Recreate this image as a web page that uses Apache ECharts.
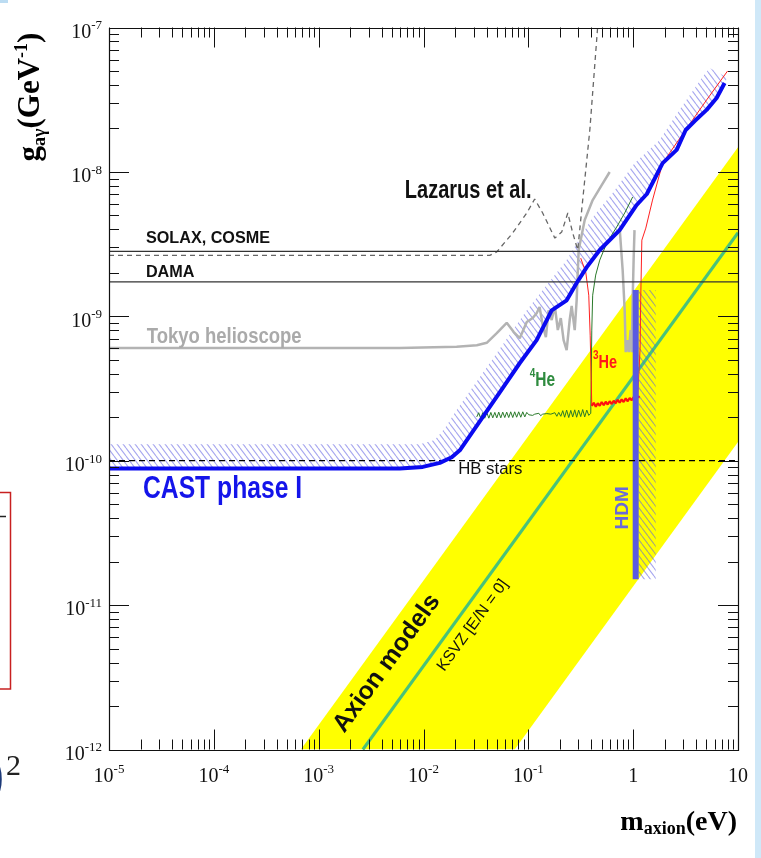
<!DOCTYPE html>
<html>
<head>
<meta charset="utf-8">
<script src="https://cdn.jsdelivr.net/npm/echarts@6/dist/echarts.min.js"></script>
<style>
  html, body { margin: 0; padding: 0; background: #ffffff; }
  #chart { width: 761px; height: 858px; }
</style>
</head>
<body>
<div id="chart"></div>
<script>
// Axion–photon coupling limits versus axion mass (eV, GeV^-1)

// CAST phase I exclusion line
const castMass  = [1e-5, 5.94e-3, 9.84e-3, 1.43e-2, 1.86e-2, 2.22e-2, 3.67e-2, 5.69e-2, 8.26e-2, 0.120, 0.167, 0.232, 0.289, 0.361, 0.480, 0.743, 1.08, 1.35, 1.91, 2.60, 3.17, 3.86, 5.02, 6.25, 7.45];
const castLimit = [8.83e-11, 8.83e-11, 9.06e-11, 9.66e-11, 1.057e-10, 1.18e-10, 2.00e-10, 3.18e-10, 4.73e-10, 6.84e-10, 1.10e-9, 1.29e-9, 1.70e-9, 2.19e-9, 2.88e-9, 3.95e-9, 5.90e-9, 7.03e-9, 1.15e-8, 1.42e-8, 1.95e-8, 2.25e-8, 2.69e-8, 3.25e-8, 4.13e-8];

// upper edge of the hatched band above the CAST line
const castBandMass  = [1e-5, 9.23e-3, 1.28e-2, 1.60e-2, 2.07e-2, 4.29e-2, 9.66e-2, 0.232, 0.411, 0.638, 1.03, 1.79, 2.77, 4.59, 5.36, 7.96];
const castBandUpper = [1.30e-10, 1.30e-10, 1.39e-10, 1.68e-10, 2.24e-10, 4.74e-10, 1.10e-9, 2.45e-9, 4.86e-9, 7.14e-9, 1.15e-8, 1.66e-8, 2.69e-8, 4.55e-8, 5.25e-8, 4.48e-8];

// Tokyo helioscope
const tokyoMass  = [1e-5, 5.94e-3, 2.07e-2, 3.22e-2, 4.01e-2, 5.00e-2, 6.22e-2, 7.26e-2, 8.28e-2, 9.66e-2, 0.110, 0.120, 0.128, 0.137, 0.147, 0.156, 0.167, 0.179, 0.191, 0.204, 0.217, 0.232, 0.248, 0.259, 0.277, 0.289, 0.302, 0.345, 0.411, 0.501, 0.597];
const tokyoLimit = [6.03e-10, 6.03e-10, 6.15e-10, 6.31e-10, 6.55e-10, 7.65e-10, 9.02e-10, 7.77e-10, 7.06e-10, 9.12e-10, 9.72e-10, 1.05e-9, 1.16e-9, 8.71e-10, 7.18e-10, 1.10e-9, 9.42e-10, 1.18e-9, 8.03e-10, 9.72e-10, 6.84e-10, 5.83e-10, 9.42e-10, 1.18e-9, 8.03e-10, 1.29e-9, 2.88e-9, 4.65e-9, 6.38e-9, 8.11e-9, 9.98e-9];
const tokyoDipMass  = [0.743, 0.794, 0.830, 0.849, 0.887, 0.906, 0.946, 0.968, 0.989, 1.01, 1.03];
const tokyoDipLimit = [4.08e-9, 2.09e-9, 1.10e-9, 5.65e-10, 6.84e-10, 5.65e-10, 8.03e-10, 5.65e-10, 1.29e-9, 2.45e-9, 3.95e-9];

// Lazarus et al.
const lazarusMass  = [1e-5, 4.29e-2, 5.00e-2, 7.10e-2, 9.66e-2, 0.115, 0.137, 0.179, 0.208, 0.238, 0.265, 0.296, 0.330, 0.386, 0.458];
const lazarusLimit = [2.64e-9, 2.64e-9, 2.79e-9, 3.78e-9, 5.19e-9, 6.49e-9, 5.19e-9, 3.48e-9, 3.83e-9, 5.19e-9, 3.78e-9, 2.88e-9, 6.38e-9, 1.95e-8, 1e-7];

// CAST phase II, 4He filling
const he4Mass = [0.0322, 0.0336, 0.0352, 0.0367, 0.0384, 0.0401, 0.0420, 0.0439, 0.0458, 0.0479, 0.0500, 0.0522, 0.0546, 0.0570, 0.0596, 0.0622, 0.0650, 0.0679, 0.0710, 0.0741, 0.0774, 0.0809, 0.0847, 0.0885, 0.0925, 0.0966,
  0.101, 0.105, 0.110, 0.115, 0.120, 0.126, 0.131, 0.137, 0.143, 0.150, 0.156, 0.164, 0.171,
  0.179, 0.187, 0.195, 0.204,
  0.213, 0.222, 0.232, 0.243, 0.254, 0.265, 0.277, 0.289, 0.302, 0.316, 0.330, 0.345, 0.361, 0.377,
  0.394, 0.398, 0.403, 0.411, 0.439, 0.480, 0.559, 0.696, 0.830, 0.989];
const he4Limit = [2.01e-10, 2.15e-10, 1.96e-10, 2.15e-10, 1.97e-10, 2.16e-10, 1.97e-10, 2.16e-10, 1.98e-10, 2.16e-10, 1.98e-10, 2.17e-10, 1.98e-10, 2.17e-10, 1.99e-10, 2.17e-10, 1.99e-10, 2.18e-10, 1.99e-10, 2.18e-10, 2.00e-10, 2.18e-10, 2.00e-10, 2.18e-10, 2.01e-10, 2.16e-10,
  2.08e-10, 2.12e-10, 2.06e-10, 2.10e-10, 2.07e-10, 2.13e-10, 2.05e-10, 2.10e-10, 2.08e-10, 2.12e-10, 2.06e-10, 2.10e-10, 2.09e-10,
  2.15e-10, 2.03e-10, 2.16e-10, 2.03e-10,
  2.22e-10, 2.00e-10, 2.24e-10, 1.99e-10, 2.23e-10, 2.01e-10, 2.25e-10, 2.00e-10, 2.24e-10, 2.02e-10, 2.26e-10, 2.01e-10, 2.24e-10, 2.06e-10,
  2.13e-10, 3.61e-10, 8.02e-10, 1.40e-9, 1.93e-9, 2.45e-9, 3.21e-9, 4.15e-9, 5.19e-9, 6.70e-9];

// CAST phase II, 3He filling
const he3Mass  = [0.316, 0.353, 0.377, 0.389, 0.398, 0.403, 0.421, 0.440, 0.459, 0.480, 0.501, 0.524, 0.547, 0.571, 0.597, 0.624, 0.652, 0.681, 0.711, 0.743, 0.776, 0.811, 0.849, 0.887, 0.926, 0.968, 1.011, 1.057, 1.104, 1.153, 1.165, 1.18, 1.21, 1.32, 1.53, 1.91, 2.60, 3.69, 5.02, 7.96];
const he3Limit = [2.53e-9, 2.02e-9, 1.40e-9, 7.40e-10, 3.61e-10, 2.40e-10, 2.52e-10, 2.36e-10, 2.50e-10, 2.40e-10, 2.55e-10, 2.42e-10, 2.56e-10, 2.45e-10, 2.58e-10, 2.47e-10, 2.60e-10, 2.50e-10, 2.64e-10, 2.52e-10, 2.66e-10, 2.55e-10, 2.70e-10, 2.58e-10, 2.72e-10, 2.62e-10, 2.76e-10, 2.66e-10, 2.78e-10, 2.74e-10, 6.0e-10, 1.29e-9, 3.37e-9, 4.08e-9, 6.38e-9, 1.15e-8, 1.59e-8, 2.29e-8, 3.15e-8, 5.00e-8];

// mass-independent limits
const solaxLimit = 2.82e-9;
const damaLimit  = 1.73e-9;
const hbLimit    = 1e-10;

// axion model band and KSVZ line
const axionBandMass     = [6.76e-4, 7.41e-2, 10, 10];
const axionBandCoupling = [1e-12, 1e-12, 1.35e-10, 1.48e-8];
const ksvzMass     = [2.64e-3, 10];
const ksvzCoupling = [1e-12, 3.79e-9];

// hot dark matter bound
const hdmMass      = 1.057;
const hdmRange     = [1.51e-11, 1.52e-9];
const hdmHatchMass = [1.127, 1.64];

// axis range
const massRange     = [1e-5, 10];
const couplingRange = [1e-12, 1e-7];

const SANS  = '"Liberation Sans", Arial, Helvetica, sans-serif';
const SERIF = '"Liberation Serif", "Times New Roman", serif';

const zip = (xs, ys) => xs.map((x, i) => [x, ys[i]]);

function hatch(color) {
  const w = 6, h = 8;
  const c = document.createElement('canvas');
  c.width = w; c.height = h;
  const ctx = c.getContext('2d');
  ctx.strokeStyle = color;
  ctx.lineWidth = 1.1;
  ctx.beginPath();
  for (let k = -1; k <= 1; k++) { ctx.moveTo(k * w, 0); ctx.lineTo(k * w + w, h); }
  ctx.stroke();
  return { image: c, repeat: 'repeat' };
}

function area(points, fill, z) {
  return {
    type: 'custom', z, silent: true, clip: true,
    data: [[1, 1e-10]],
    renderItem: (params, api) => ({
      type: 'polygon',
      shape: { points: points.map(p => api.coord(p)) },
      style: { fill }
    })
  };
}

function curve(data, lineStyle, z) {
  return {
    type: 'line', data, z, symbol: 'none', showSymbol: false, silent: true, clip: true,
    lineStyle, animation: false
  };
}

// tick marks on all four sides (major per decade, minor at 2..9)
const xTicks = [], yTicks = [];
for (let e = -5; e <= 0; e++) for (let k = 1; k <= 9; k++) xTicks.push([k * Math.pow(10, e), 1e-12, k === 1 ? 1 : 0]);
xTicks.push([10, 1e-12, 1]);
for (let e = -12; e <= -8; e++) for (let k = 1; k <= 9; k++) yTicks.push([1e-5, k * Math.pow(10, e), k === 1 ? 1 : 0]);
yTicks.push([1e-5, 1e-7, 1]);

const tickStroke = { stroke: '#111', lineWidth: 1 };

// text annotations placed in data coordinates
const notes = [
  { text: 'Lazarus et al.', at: [6.64e-3, 7.38e-9], font: 'bold 20px ' + SANS, fill: '#111', sy: 1.28 },
  { text: 'SOLAX, COSME', at: [2.25e-5, 3.43e-9], font: 'bold 16.2px ' + SANS, fill: '#111' },
  { text: 'DAMA', at: [2.25e-5, 2.01e-9], font: 'bold 16.2px ' + SANS, fill: '#111' },
  { text: 'Tokyo helioscope', at: [2.29e-5, 7.19e-10], font: 'bold 18.5px ' + SANS, fill: '#aaaaaa', sy: 1.15 },
  { text: 'CAST phase I', at: [2.11e-5, 6.34e-11], font: 'bold 24.7px ' + SANS, fill: '#1414ea', sy: 1.24 },
  { text: 'HB stars', at: [2.14e-2, 8.71e-11], font: '16.8px ' + SANS, fill: '#111' },
  { text: '{s|4}{h|He}', at: [0.103, 3.58e-10], fill: '#2e8b3e', sy: 1.25,
    rich: { s: { font: 'bold 10px ' + SANS, fill: '#2e8b3e', verticalAlign: 'top', lineHeight: 10 },
            h: { font: 'bold 15.5px ' + SANS, fill: '#2e8b3e', lineHeight: 22 } } },
  { text: '{s|3}{h|He}', at: [0.414, 4.72e-10], fill: '#ff1a1a', sy: 1.25,
    rich: { s: { font: 'bold 10px ' + SANS, fill: '#ff1a1a', verticalAlign: 'top', lineHeight: 10 },
            h: { font: 'bold 14.5px ' + SANS, fill: '#ff1a1a', lineHeight: 22 } } },
  { text: 'HDM', at: [0.80, 4.72e-11], font: 'bold 19px ' + SANS, fill: '#6a6ad8', rot: 90, align: 'center' },
  { text: 'Axion models', at: [4.47e-3, 3.95e-12], font: 'bold 25px ' + SANS, fill: '#111', rot: 54, align: 'center' },
  { text: 'KSVZ [E/N = 0]', at: [2.95e-2, 7.24e-12], font: '16px ' + SANS, fill: '#111', rot: 54, align: 'center' }
];

const tickRich = {
  b: { fontFamily: SERIF, fontSize: 20, lineHeight: 26, color: '#111' },
  e: { fontFamily: SERIF, fontSize: 13, lineHeight: 10, verticalAlign: 'top', color: '#111' }
};
function powerLabel(v) {
  const e = Math.round(Math.log10(v));
  if (e === 0) return '{b|1}';
  if (e === 1) return '{b|10}';
  return '{b|10}{e|' + e + '}';
}

const hatchFill = hatch('rgba(95, 95, 225, 0.55)');
const castBandPoly = zip(castBandMass, castBandUpper).concat(zip(castMass, castLimit).reverse());
const hdmHatchPoly = [[hdmHatchMass[0], hdmRange[1]], [hdmHatchMass[1], hdmRange[1]], [hdmHatchMass[1], hdmRange[0]], [hdmHatchMass[0], hdmRange[0]]];

const chart = echarts.init(document.getElementById('chart'), null, { renderer: 'canvas' });

chart.setOption({
  animation: false,
  backgroundColor: '#ffffff',
  grid: { left: 109, right: 23, top: 27.5, bottom: 108.5 },
  xAxis: {
    type: 'log', logBase: 10, min: massRange[0], max: massRange[1],
    axisLine: { show: false }, axisTick: { show: false }, splitLine: { show: false },
    axisLabel: { margin: 14, formatter: powerLabel, rich: tickRich, showMinLabel: true, showMaxLabel: true }
  },
  yAxis: {
    type: 'log', logBase: 10, min: couplingRange[0], max: couplingRange[1],
    axisLine: { show: false }, axisTick: { show: false }, splitLine: { show: false },
    axisLabel: { margin: 7, formatter: powerLabel, rich: tickRich, padding: [10, 0, 0, 0], showMinLabel: true, showMaxLabel: true }
  },
  series: [
    area(zip(axionBandMass, axionBandCoupling), '#ffff00', 1),
    curve(zip(ksvzMass, ksvzCoupling), { color: '#48c27a', width: 3 }, 2),
    area(hdmHatchPoly, hatchFill, 3),
    area(castBandPoly, hatchFill, 3),
    curve(zip(tokyoMass, tokyoLimit), { color: '#b3b3b3', width: 2.5 }, 4),
    curve(zip(tokyoDipMass, tokyoDipLimit), { color: '#b3b3b3', width: 2.5 }, 4),
    curve(zip(lazarusMass, lazarusLimit), { color: '#666666', width: 1.3, type: [5, 4] }, 4),
    curve(zip(he4Mass, he4Limit), { color: '#2a7a2a', width: 1 }, 5),
    curve(zip(he3Mass, he3Limit), { color: '#ff2020', width: 1 }, 5),
    curve(zip(he3Mass.slice(5, 30), he3Limit.slice(5, 30)), { color: '#ff1010', width: 2.2 }, 5),
    curve([[hdmMass, hdmRange[0]], [hdmMass, hdmRange[1]]], { color: '#5a5ae0', width: 6, cap: 'butt' }, 6),
    curve([[massRange[0], solaxLimit], [massRange[1], solaxLimit]], { color: '#333333', width: 1.2 }, 6),
    curve([[massRange[0], damaLimit], [massRange[1], damaLimit]], { color: '#333333', width: 1.2 }, 6),
    curve([[massRange[0], hbLimit], [massRange[1], hbLimit]], { color: '#000000', width: 1.2, type: [6, 4] }, 6),
    curve(zip(castMass, castLimit), { color: '#0a0af0', width: 4, join: 'round' }, 7),
    {
      type: 'custom', z: 8, silent: true, data: xTicks,
      renderItem: (params, api) => {
        const len = api.value(2) ? 20 : 10;
        const b = api.coord([api.value(0), couplingRange[0]]);
        const t = api.coord([api.value(0), couplingRange[1]]);
        const x = Math.round(b[0]) + 0.5;
        return { type: 'group', children: [
          { type: 'line', shape: { x1: x, y1: b[1], x2: x, y2: b[1] - len }, style: tickStroke },
          { type: 'line', shape: { x1: x, y1: t[1], x2: x, y2: t[1] + len }, style: tickStroke }
        ] };
      }
    },
    {
      type: 'custom', z: 8, silent: true, data: yTicks,
      renderItem: (params, api) => {
        const len = api.value(2) ? 20 : 10;
        const l = api.coord([massRange[0], api.value(1)]);
        const r = api.coord([massRange[1], api.value(1)]);
        const y = Math.round(l[1]) + 0.5;
        return { type: 'group', children: [
          { type: 'line', shape: { x1: l[0], y1: y, x2: l[0] + len, y2: y }, style: tickStroke },
          { type: 'line', shape: { x1: r[0], y1: y, x2: r[0] - len, y2: y }, style: tickStroke }
        ] };
      }
    },
    {
      type: 'custom', z: 8, silent: true, data: [[1, 1e-10]],
      renderItem: (params, api) => {
        const a = api.coord([massRange[0], couplingRange[1]]);
        const b = api.coord([massRange[1], couplingRange[0]]);
        return { type: 'rect',
          shape: { x: Math.round(a[0]) + 0.5, y: Math.round(a[1]) + 0.5, width: Math.round(b[0] - a[0]), height: Math.round(b[1] - a[1]) },
          style: { fill: 'none', stroke: '#111', lineWidth: 1.2 } };
      }
    },
    {
      type: 'custom', z: 9, silent: true, data: notes.map(n => n.at),
      renderItem: (params, api) => {
        const n = notes[params.dataIndex];
        const p = api.coord([api.value(0), api.value(1)]);
        return {
          type: 'text', x: p[0], y: p[1],
          rotation: (n.rot || 0) * Math.PI / 180, scaleY: n.sy || 1,
          style: { text: n.text, font: n.font, fill: n.fill, align: n.align || 'left', verticalAlign: 'middle', rich: n.rich }
        };
      }
    }
  ],
  graphic: [
    { type: 'rect', silent: true, shape: { x: 755, y: 0, width: 6, height: 858 }, style: { fill: '#cfe8f8' } },
    { type: 'rect', silent: true, shape: { x: 0, y: 0, width: 8, height: 3 }, style: { fill: '#bcdcf2' } },
    { type: 'rect', silent: true, shape: { x: -6, y: 492.5, width: 16.5, height: 196.5 }, style: { fill: 'none', stroke: '#c82020', lineWidth: 1.5 } },
    { type: 'line', silent: true, shape: { x1: 0, y1: 516.5, x2: 6, y2: 516.5 }, style: { stroke: '#222', lineWidth: 1.5 } },
    { type: 'text', silent: true, x: -15, y: 778, style: { text: ')', font: '58px ' + SERIF, fill: '#1d3a78', align: 'left', verticalAlign: 'middle' } },
    { type: 'text', silent: true, x: 6, y: 767, style: { text: '2', font: '30px ' + SERIF, fill: '#222', align: 'left', verticalAlign: 'middle' } },
    {
      type: 'text', silent: true, x: 31, y: 97, rotation: Math.PI / 2,
      style: {
        text: '{a|g}{s|aγ}{a|(GeV}{t|-1}{a|)}', align: 'center', verticalAlign: 'middle',
        rich: {
          a: { font: 'bold 31px ' + SERIF, fill: '#000', lineHeight: 36 },
          s: { font: 'bold 18px ' + SERIF, fill: '#000', verticalAlign: 'bottom', lineHeight: 14 },
          t: { font: 'bold 18px ' + SERIF, fill: '#000', verticalAlign: 'top', lineHeight: 12 }
        }
      }
    },
    {
      type: 'text', silent: true, x: 737, y: 823,
      style: {
        text: '{a|m}{s|axion}{a|(eV)}', align: 'right', verticalAlign: 'middle',
        rich: {
          a: { font: 'bold 28px ' + SERIF, fill: '#000', lineHeight: 30 },
          s: { font: 'bold 18px ' + SERIF, fill: '#000', verticalAlign: 'bottom', lineHeight: 10 }
        }
      }
    }
  ]
});
</script>
</body>
</html>
